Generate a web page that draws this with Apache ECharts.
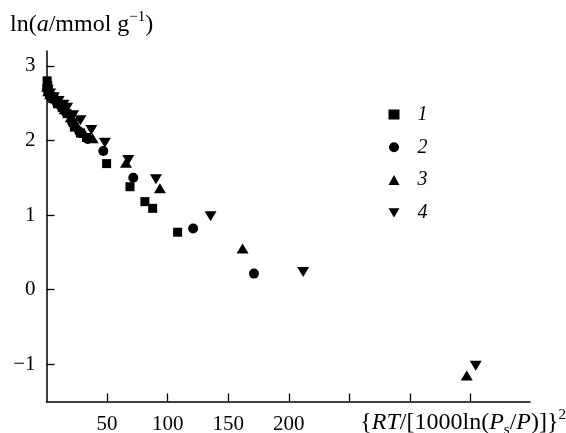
<!DOCTYPE html>
<html>
<head>
<meta charset="utf-8">
<script src="https://cdn.jsdelivr.net/npm/echarts@6/dist/echarts.min.js"></script>
<style>
  html, body { margin: 0; padding: 0; background: #fff; }
  #chart { width: 566px; height: 433px; }
</style>
</head>
<body>
<div id="chart"></div>
<script>
// 数据: [x, ln a]
let series1 = [[0.5, 2.80], [1, 2.74], [1.5, 2.68], [2.5, 2.63], [4, 2.59], [6, 2.56], [9, 2.50], [13, 2.44], [17, 2.36], [22, 2.24], [23, 2.18], [28, 2.10], [33, 2.04], [49.6, 1.69], [68.9, 1.38], [81.2, 1.18], [87.6, 1.09], [108.2, 0.77]];
let series2 = [[0.5, 2.70], [1.5, 2.64], [3, 2.60], [5, 2.56], [8, 2.52], [12, 2.46], [16, 2.38], [21, 2.25], [27, 2.12], [34, 2.02], [46.9, 1.86], [71.6, 1.50], [121, 0.82], [171.2, 0.215]];
let series3 = [[0.5, 2.72], [1.5, 2.66], [3, 2.62], [6, 2.57], [10, 2.50], [15, 2.42], [20, 2.31], [25, 2.20], [31, 2.10], [38, 2.03], [65.6, 1.70], [93.6, 1.36], [161.8, 0.55], [346.8, -1.15]];
let series4 = [[1, 2.68], [3, 2.63], [6, 2.58], [10, 2.53], [14, 2.48], [17, 2.44], [22, 2.34], [28, 2.27], [37, 2.14], [48.2, 1.97], [67.5, 1.74], [90.3, 1.48], [135.4, 0.985], [211.8, 0.237], [354.2, -1.02]];

let seriesNames = ['1', '2', '3', '4'];
let xTicks = [50, 100, 150, 200, 250, 300, 350];
let xLabels = [50, 100, 150, 200];
let yTicks = [-1, 0, 1, 2, 3];

const FONT = '"Liberation Serif", "DejaVu Serif", serif';
const downTri = 'path://M0,0L12,0L6,10Z';

let myChart = echarts.init(document.getElementById('chart'));

// 轴标题用的富文本样式
let nameRich = {
    n: { fontFamily: FONT, fontSize: 24, color: '#000', fontWeight: 'normal', lineHeight: 30 },
    i: { fontFamily: FONT, fontSize: 24, color: '#000', fontWeight: 'normal', fontStyle: 'italic', lineHeight: 30 },
    sub: { fontFamily: FONT, fontSize: 15, color: '#000', lineHeight: 19, verticalAlign: 'bottom' },
    sup: { fontFamily: FONT, fontSize: 15, color: '#000', fontWeight: 'normal', lineHeight: 17, verticalAlign: 'top' }
};

let option = {
    animation: false,
    backgroundColor: '#fff',
    // y轴标题
    title: {
        left: 10,
        top: 10,
        padding: 0,
        text: '{n|ln(}{i|a}{n|/mmol g}{sup|−1}{n|)}',
        textStyle: {
            fontWeight: 'normal',
            rich: nameRich
        }
    },
    legend: {
        orient: 'vertical',
        left: 383.5,
        top: 99.5,
        itemWidth: 11,
        itemHeight: 10,
        itemGap: 12.8,
        textStyle: {
            fontFamily: FONT,
            fontSize: 20,
            fontStyle: 'italic',
            color: '#000',
            padding: [0, 0, 0, 13]
        },
        data: [
            { name: '1', icon: 'rect' },
            { name: '2', icon: 'circle' },
            { name: '3', icon: 'triangle' },
            { name: '4', icon: downTri }
        ]
    },
    grid: {
        left: 46.5,
        right: 36,
        top: 51,
        bottom: 31.5,
        containLabel: false,
        outerBoundsMode: 'none'
    },
    xAxis: {
        type: 'value',
        min: 0,
        max: 399,
        axisLine: { show: true, onZero: false, lineStyle: { color: '#000', width: 1.5 } },
        axisTick: { show: true, inside: true, length: 8, customValues: xTicks, lineStyle: { color: '#000', width: 1.3 } },
        splitLine: { show: false },
        axisLabel: {
            customValues: xLabels,
            margin: 12,
            fontFamily: FONT,
            fontSize: 21,
            color: '#000'
        },
        name: '{n|{}{i|RT}{n|/[1000ln(}{i|P}{sub|s}{n|/}{i|P}{n|)]}}{sup|2}',
        nameLocation: 'end',
        nameGap: 36,
        nameTextStyle: {
            fontFamily: FONT,
            fontSize: 24,
            color: '#000',
            lineHeight: 30,
            align: 'right',
            verticalAlign: 'top',
            padding: [6, 0, 0, 0],
            rich: nameRich
        }
    },
    yAxis: {
        type: 'value',
        min: -1.5,
        max: 3.2,
        axisLine: { show: true, onZero: false, lineStyle: { color: '#000', width: 1.5 } },
        axisTick: { show: true, inside: true, length: 8, customValues: yTicks, lineStyle: { color: '#000', width: 1.3 } },
        splitLine: { show: false },
        axisLabel: {
            customValues: yTicks,
            margin: 11,
            fontFamily: FONT,
            fontSize: 21,
            color: '#000',
            formatter: function(value) {
                return value < 0 ? '−' + Math.abs(value) : value;
            }
        }
    },
    series: [
        { name: seriesNames[0], type: 'scatter', symbol: 'rect', symbolSize: 9, itemStyle: { color: '#000', opacity: 1 }, data: series1 },
        { name: seriesNames[1], type: 'scatter', symbol: 'circle', symbolSize: 10, itemStyle: { color: '#000', opacity: 1 }, data: series2 },
        { name: seriesNames[2], type: 'scatter', symbol: 'triangle', symbolSize: [12, 10], itemStyle: { color: '#000', opacity: 1 }, data: series3 },
        { name: seriesNames[3], type: 'scatter', symbol: downTri, symbolSize: [12, 10], itemStyle: { color: '#000', opacity: 1 }, data: series4 }
    ]
};

myChart.setOption(option);
</script>
</body>
</html>
